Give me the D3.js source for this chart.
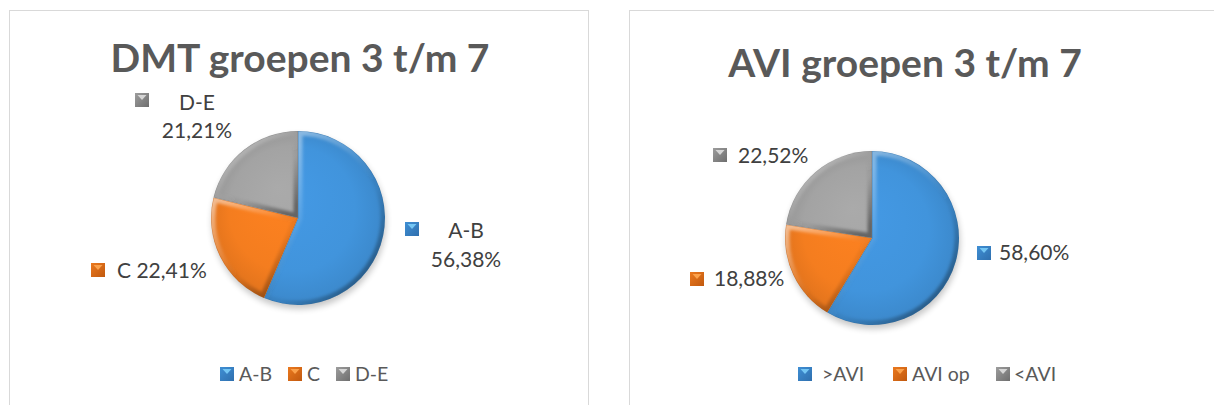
<!DOCTYPE html>
<html>
<head>
<meta charset="utf-8">
<script src="https://cdn.jsdelivr.net/npm/d3@7"></script>
<style>
  body { margin: 0; background: #fff; }
  svg { display: block; font-family: Lato, "Open Sans", sans-serif; }
</style>
</head>
<body>
<script>
var width = 1214,
    height = 405;

// data
var dmtTitle = "DMT groepen 3 t/m 7";
var dmtCategories = ["A-B", "C", "D-E"];
var dmtValues = [56.38, 22.41, 21.21];

var aviTitle = "AVI groepen 3 t/m 7";
var aviCategories = [">AVI", "AVI op", "<AVI"];
var aviValues = [58.60, 18.88, 22.52];

// which data labels also show the category name
var dmtShowName = [true, true, true];
var aviShowName = [false, false, false];

var sliceColors = ["#4194DC", "#F47D1F", "#A3A3A3"];
var markerDark = ["#2F6FAE", "#C1590F", "#6E6E6E"];
var markerLight = ["#74C6F4", "#FBA24C", "#D6D6D6"];

var pct = function (v) { return v.toFixed(2).replace(".", ",") + "%"; };

// layout of the two chart boxes (positions only)
var panels = [
  {
    title: dmtTitle, categories: dmtCategories, values: dmtValues, showName: dmtShowName,
    box: [9, 10, 588, 420], titleX: 300, titleY: 72,
    cx: 298, cy: 218, r: 87,
    labels: [
      { mx: 405, my: 222, lines: [[466, 230], [466, 259]], anchor: "middle" },
      { mx: 91, my: 263, lines: [[117, 270]], anchor: "start", inline: true },
      { mx: 135, my: 93, lines: [[197, 102], [197, 130]], anchor: "middle" }
    ],
    legendX: [220, 288, 336], legendGap: [5, 5, 5], legendY: 374
  },
  {
    title: aviTitle, categories: aviCategories, values: aviValues, showName: aviShowName,
    box: [629, 10, 1240, 420], titleX: 905, titleY: 77,
    cx: 872, cy: 238, r: 87,
    labels: [
      { mx: 977, my: 246, lines: [[999, 252]], anchor: "start" },
      { mx: 690, my: 272, lines: [[714, 278]], anchor: "start" },
      { mx: 713, my: 148, lines: [[738, 155]], anchor: "start" }
    ],
    legendX: [798, 893, 996], legendGap: [10, 5, 4], legendY: 374
  }
];

var svg = d3.select("body").append("svg")
    .attr("width", width)
    .attr("height", height);

var defs = svg.append("defs");

// bevel-ish gradients for the slices
sliceColors.forEach(function (c, i) {
  var g = defs.append("radialGradient")
      .attr("id", "fill" + i)
      .attr("gradientUnits", "userSpaceOnUse")
      .attr("cx", 0).attr("cy", 0).attr("r", 90)
      .attr("fx", -20).attr("fy", -30);
  g.append("stop").attr("offset", "0%").attr("stop-color", d3.color(c).brighter(0.12));
  g.append("stop").attr("offset", "70%").attr("stop-color", c);
  g.append("stop").attr("offset", "100%").attr("stop-color", d3.color(c).darker(0.25));

  var m = defs.append("linearGradient")
      .attr("id", "mk" + i)
      .attr("x1", 0).attr("y1", 0).attr("x2", 1).attr("y2", 1);
  m.append("stop").attr("offset", "0%").attr("stop-color", d3.color(c).darker(0.1));
  m.append("stop").attr("offset", "100%").attr("stop-color", markerDark[i]);
});

var edge = defs.append("linearGradient")
    .attr("id", "edge")
    .attr("x1", 0).attr("y1", 0).attr("x2", 0.8).attr("y2", 1);
edge.append("stop").attr("offset", "0%").attr("stop-color", "#fff").attr("stop-opacity", 0.55);
edge.append("stop").attr("offset", "45%").attr("stop-color", "#fff").attr("stop-opacity", 0.1);
edge.append("stop").attr("offset", "65%").attr("stop-color", "#000").attr("stop-opacity", 0.05);
edge.append("stop").attr("offset", "100%").attr("stop-color", "#000").attr("stop-opacity", 0.4);

defs.append("filter").attr("id", "soft")
    .append("feGaussianBlur").attr("stdDeviation", 1.6);
defs.append("filter").attr("id", "shadow")
    .attr("x", "-20%").attr("y", "-20%").attr("width", "140%").attr("height", "140%")
    .append("feGaussianBlur").attr("stdDeviation", 3);

var pie = d3.pie().sort(null).value(function (d) { return d; });

panels.forEach(function (p, pi) {
  var gp = svg.append("g");

  gp.append("rect")
      .attr("x", p.box[0] + 0.5).attr("y", p.box[1] + 0.5)
      .attr("width", p.box[2] - p.box[0]).attr("height", p.box[3] - p.box[1])
      .attr("fill", "#fff")
      .attr("stroke", "#D9D9D9");

  gp.append("text")
      .attr("x", p.titleX).attr("y", p.titleY)
      .attr("text-anchor", "middle")
      .attr("font-size", 39)
      .attr("font-weight", "bold")
      .attr("fill", "#595959")
      .text(p.title);

  var arcs = pie(p.values);
  var arc = d3.arc().innerRadius(0).outerRadius(p.r);

  var gPie = gp.append("g").attr("transform", "translate(" + p.cx + "," + p.cy + ")");

  gPie.append("circle")
      .attr("cx", 1).attr("cy", 4).attr("r", p.r)
      .attr("fill", "#000").attr("opacity", 0.22)
      .attr("filter", "url(#shadow)");

  arcs.forEach(function (a, i) {
    var id = "clip" + pi + "_" + i;
    defs.append("clipPath").attr("id", id)
      .append("path").attr("d", arc(a));

    var s = gPie.append("g").attr("clip-path", "url(#" + id + ")");
    s.append("path")
        .attr("d", arc(a))
        .attr("fill", "url(#fill" + i + ")");
    s.append("path")
        .attr("d", arc(a))
        .attr("fill", "none")
        .attr("stroke", "url(#edge)")
        .attr("stroke-width", 9)
        .attr("stroke-linejoin", "round")
        .attr("filter", "url(#soft)");
    s.append("path")
        .attr("d", arc(a))
        .attr("fill", "none")
        .attr("stroke", d3.color(sliceColors[i]).darker(0.8))
        .attr("stroke-opacity", 0.5)
        .attr("stroke-width", 1.2);
  });

  function marker(g, x, y, i) {
    g.append("rect")
        .attr("x", x).attr("y", y).attr("width", 14).attr("height", 14)
        .attr("fill", "url(#mk" + i + ")");
    g.append("path")
        .attr("d", "M" + (x + 2.5) + "," + (y + 2) + "L" + (x + 11.5) + "," + (y + 2) + "L" + (x + 7) + "," + (y + 7) + "Z")
        .attr("fill", markerLight[i]);
  }

  // data labels
  p.labels.forEach(function (l, i) {
    var gl = gp.append("g");
    marker(gl, l.mx, l.my, i);
    var lines;
    if (!p.showName[i]) lines = [pct(p.values[i])];
    else if (l.inline) lines = [p.categories[i] + " " + pct(p.values[i])];
    else lines = [p.categories[i], pct(p.values[i])];
    lines.forEach(function (t, k) {
      gl.append("text")
          .attr("x", l.lines[k][0]).attr("y", l.lines[k][1])
          .attr("dy", "0.36em")
          .attr("text-anchor", l.anchor)
          .attr("font-size", 21)
          .attr("fill", "#404040")
          .text(t);
    });
  });

  // legend
  p.categories.forEach(function (c, i) {
    var x = p.legendX[i];
    marker(gp, x, p.legendY - 7, i);
    gp.append("text")
        .attr("x", x + 14 + p.legendGap[i]).attr("y", p.legendY)
        .attr("dy", "0.36em")
        .attr("font-size", 19.5)
        .attr("fill", "#595959")
        .text(c);
  });
});
</script>
</body>
</html>
